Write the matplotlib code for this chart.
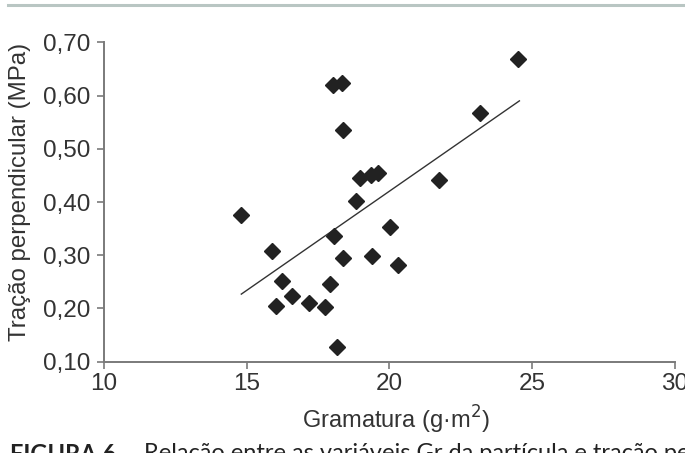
import matplotlib
matplotlib.use("Agg")
import matplotlib.pyplot as plt
from matplotlib.lines import Line2D

plt.rcParams['font.family'] = ['Liberation Sans', 'DejaVu Sans']

# Data
gramatura = [14.81, 15.87, 16.22, 16.02, 16.57, 17.19, 17.73, 17.93, 18.04, 18.16,
             18.01, 18.32, 18.38, 18.36, 18.83, 18.98, 19.35, 19.59, 19.38, 20.02,
             20.30, 21.72, 23.16, 24.50]
tracao = [0.375, 0.308, 0.252, 0.205, 0.223, 0.211, 0.202, 0.246, 0.336, 0.127,
          0.620, 0.623, 0.535, 0.294, 0.402, 0.446, 0.451, 0.455, 0.299, 0.353,
          0.281, 0.441, 0.567, 0.669]
trend_x = [14.81, 24.55]
trend_y = [0.227, 0.590]

x_ticks = [10, 15, 20, 25, 30]
y_ticks = [0.10, 0.20, 0.30, 0.40, 0.50, 0.60, 0.70]
y_tick_labels = ['0,10', '0,20', '0,30', '0,40', '0,50', '0,60', '0,70']

fig = plt.figure(figsize=(6.85, 4.53), dpi=100)
ax = fig.add_axes([0.1518, 0.2015, 0.8336, 0.7051])

ax.plot(trend_x, trend_y, color='#333333', linewidth=1.0, zorder=2)
ax.plot(gramatura, tracao, linestyle='none', marker='D', markersize=8.5,
        color='#222222', zorder=3)

ax.set_xlim(10, 30)
ax.set_ylim(0.10, 0.70)
ax.set_xticks(x_ticks)
ax.set_xticklabels([str(t) for t in x_ticks])
ax.set_yticks(y_ticks)
ax.set_yticklabels(y_tick_labels)

for s in ['top', 'right']:
    ax.spines[s].set_visible(False)
for s in ['left', 'bottom']:
    ax.spines[s].set_color('#7a7a7a')
    ax.spines[s].set_linewidth(1.4)
ax.tick_params(axis='both', colors='#7a7a7a', length=5, width=1.2,
               labelsize=17.5, labelcolor='#333333')
ax.tick_params(axis='y', pad=5)
ax.tick_params(axis='x', pad=3)

ax.set_xlabel('Gramatura (g·m$^{2}$)', fontsize=17, color='#333333')
ax.set_ylabel('Tração perpendicular (MPa)', fontsize=17.3, color='#333333')
ax.xaxis.set_label_coords(0.512, -0.133)
ax.yaxis.set_label_coords(-0.128, 0.53)

# Top decorative rule
fig.add_artist(Line2D([8 / 685, 1.0], [1 - 4.5 / 453, 1 - 4.5 / 453],
                      transform=fig.transFigure, color='#b9c6c3', linewidth=2.2))

# Caption (cut off at bottom in the reference)
fig.text(10 / 685, 1 - 443 / 453, 'FIGURA 6.', fontsize=17, fontweight='bold',
         family=['Lato', 'DejaVu Sans'], color='#222222', va='top', ha='left')
fig.text(144 / 685, 1 - 443 / 453,
         'Relação entre as variáveis Gr da partícula e tração perpendicular.',
         fontsize=17, family=['Lato', 'DejaVu Sans'], color='#222222',
         va='top', ha='left')

fig.savefig('out.png', dpi=100)
